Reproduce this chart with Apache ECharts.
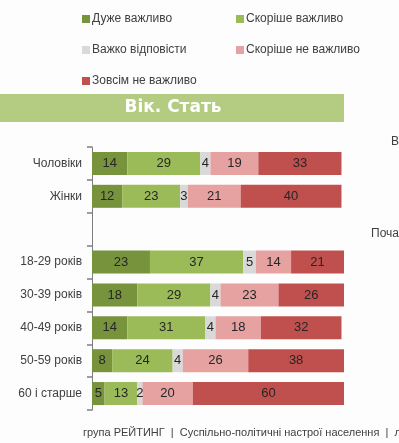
<!DOCTYPE html>
<html>
<head>
    <meta charset="utf-8">
    <script src="https://cdn.jsdelivr.net/npm/echarts@6/dist/echarts.min.js"></script>
</head>
<style type="text/css">
    body { margin: 0; }
</style>
<body>
<div style="width: 399px;height: 443px;" id="chart"></div>
<script>

let chart = echarts.init(document.getElementById('chart'));

let categories = ['Чоловіки', 'Жінки', '', '18-29 років', '30-39 років', '40-49 років', '50-59 років', '60 і старше'];

let seriesNames = ['Дуже важливо', 'Скоріше важливо', 'Важко відповісти', 'Скоріше не важливо', 'Зовсім не важливо'];
let colors = ['#77933c', '#9bbb59', '#d9d9d9', '#e6a1a1', '#c0504d'];

let veryImportant = [14, 12, null, 23, 18, 14, 8, 5];
let ratherImportant = [29, 23, null, 37, 29, 31, 24, 13];
let hardToSay = [4, 3, null, 5, 4, 4, 4, 2];
let ratherNot = [19, 21, null, 14, 23, 18, 26, 20];
let notAtAll = [33, 40, null, 21, 26, 32, 38, 60];

let values = [veryImportant, ratherImportant, hardToSay, ratherNot, notAtAll];

let legendStyle = {
    orient: 'vertical',
    icon: 'rect',
    itemWidth: 8,
    itemHeight: 8,
    itemGap: 17,
    textStyle: {
        fontFamily: 'Liberation Sans',
        fontSize: 12,
        color: '#404040',
        lineHeight: 14,
        padding: [0, 0, 0, -3]
    }
};

let option = {
    backgroundColor: '#fdfdfd',
    color: colors,
    legend: [
        Object.assign({left: 77, top: 7, data: [seriesNames[0], seriesNames[2], seriesNames[4]]}, legendStyle),
        Object.assign({left: 231, top: 7, data: [seriesNames[1], seriesNames[3]]}, legendStyle)
    ],
    grid: {
        left: 92,
        right: 55,
        top: 147,
        bottom: 33
    },
    xAxis: {
        type: 'value',
        min: 0,
        max: 100,
        show: false
    },
    yAxis: {
        type: 'category',
        data: categories,
        inverse: true,
        axisLine: {show: true, lineStyle: {color: '#7f7f7f'}},
        axisTick: {show: true, length: 5, lineStyle: {color: '#7f7f7f', width: 1.5}},
        axisLabel: {
            margin: 10,
            interval: 0,
            fontFamily: 'Liberation Sans',
            fontSize: 12,
            color: '#404040'
        }
    },
    graphic: [
        {
            type: 'rect',
            shape: {x: 0, y: 94, width: 344, height: 28},
            style: {fill: '#b3cc82'}
        },
        {
            type: 'text',
            x: 173,
            y: 108,
            style: {
                text: 'Вік. Стать',
                fill: '#fff',
                font: 'bold 17px "DejaVu Sans"',
                align: 'center',
                verticalAlign: 'middle'
            }
        },
        {
            type: 'text',
            x: 83,
            y: 433,
            style: {
                text: 'група РЕЙТИНГ  |  Суспільно-політичні настрої населення  |  ли',
                fill: '#404040',
                font: '11px "Liberation Sans"',
                verticalAlign: 'middle'
            }
        },
        {
            type: 'text',
            x: 391,
            y: 142,
            style: {text: 'В', fill: '#404040', font: '12px "Liberation Sans"', verticalAlign: 'middle'}
        },
        {
            type: 'text',
            x: 371,
            y: 234,
            style: {text: 'Почат', fill: '#404040', font: '12px "Liberation Sans"', verticalAlign: 'middle'}
        }
    ],
    series: seriesNames.map((name, i) => ({
        name: name,
        type: 'bar',
        stack: 'total',
        barWidth: '70%',
        data: values[i],
        label: {
            show: true,
            position: 'inside',
            fontFamily: 'Liberation Sans',
            fontSize: 13,
            color: '#262626'
        }
    }))
};

chart.setOption(option);

</script>
</body>
</html>
